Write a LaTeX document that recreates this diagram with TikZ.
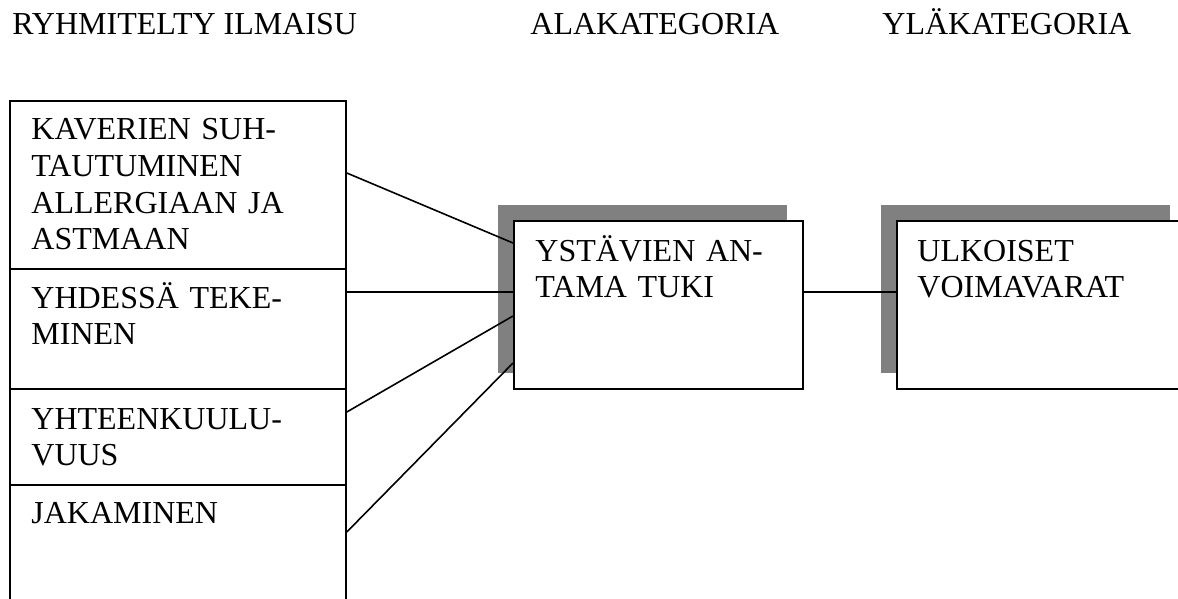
\documentclass[tikz,border=0pt]{standalone}
\usepackage{fontspec}
\setmainfont{Liberation Serif}
\usetikzlibrary{shadows}
\tikzset{
  cell/.style={draw, line width=0.9pt, anchor=north west, minimum width=168pt, inner sep=0pt},
  catbox/.style={draw, fill=white, line width=0.9pt, anchor=north west, minimum width=144.5pt, minimum height=84pt, inner sep=0pt,
    drop shadow={shadow xshift=-8pt, shadow yshift=8pt, fill=black!50, opacity=1}},
  boxtext/.style={anchor=base west, text width=150pt, align=left, inner sep=0pt, font=\fontsize{16}{18.3}\selectfont},
  head/.style={anchor=base west, inner sep=0pt, font=\fontsize{16}{18.3}\selectfont},
  link/.style={line width=0.8pt}
}
\begin{document}
\begin{tikzpicture}[x=0.5pt, y=-0.5pt]
            \useasboundingbox (0,0) rectangle (1178,599);
            \clip (0,0) rectangle (1178,599);
            \node[head] (h1) at (12,35) {RYHMITELTY ILMAISU};
            \node[head] (h2) at (530,35) {ALAKATEGORIA};
            \node[head] (h3) at (882,35) {YLÄKATEGORIA};
            \node[cell, minimum height=84pt] (kav) at (9,100) {};
            \node[cell, minimum height=60pt] (yhd) at (9,268) {};
            \node[cell, minimum height=48pt] (yht) at (9,388) {};
            \node[cell, minimum height=68pt] (jak) at (9,484) {};
            \node[catbox] (tuki) at (513,220) {};
            \node[catbox] (voima) at (896,220) {};
            \node[boxtext] (kavt) at ([xshift=11pt, yshift=-20pt]kav.north west) {KAVERIEN SUH-\\TAUTUMINEN\\ALLERGIAAN JA\\ASTMAAN};
            \node[boxtext] (yhdt) at ([xshift=11pt, yshift=-20pt]yhd.north west) {YHDESSÄ TEKE-\\MINEN};
            \node[boxtext] (yhtt) at ([xshift=11pt, yshift=-20.5pt]yht.north west) {YHTEENKUULU-\\VUUS};
            \node[boxtext] (jakt) at ([xshift=11pt, yshift=-19.5pt]jak.north west) {JAKAMINEN};
            \node[boxtext] (tukit) at ([xshift=11pt, yshift=-20.5pt]tuki.north west) {YSTÄVIEN AN-\\TAMA TUKI};
            \node[boxtext] (voimat) at ([xshift=10.5pt, yshift=-20.5pt]voima.north west) {ULKOISET\\VOIMAVARAT};
            \draw[link] ([yshift=-36.5pt]kav.north east) -- ([yshift=-11.5pt]tuki.north west);
            \draw[link] ([yshift=-12pt]yhd.north east) -- ([yshift=-36pt]tuki.north west);
            \draw[link] ([yshift=-12pt]yht.north east) -- ([yshift=-48pt]tuki.north west);
            \draw[link] ([yshift=-24pt]jak.north east) -- ([yshift=-71.5pt]tuki.north west);
            \draw[link] ([yshift=-36pt]tuki.north east) -- ([yshift=-36pt]voima.north west);
        \end{tikzpicture}
\end{document}
